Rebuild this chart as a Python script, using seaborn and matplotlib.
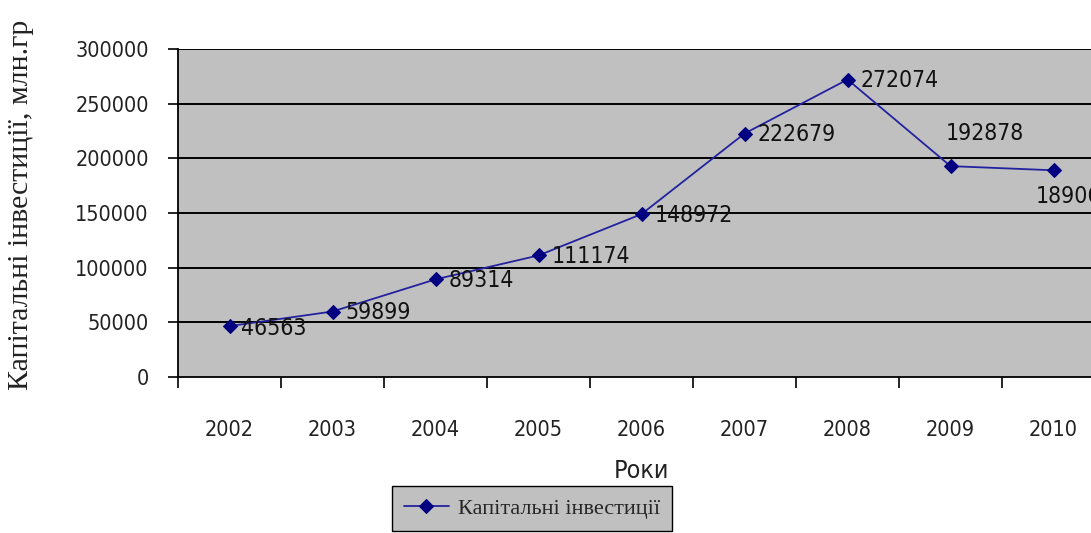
import matplotlib
matplotlib.use("Agg")
import matplotlib.pyplot as plt
from matplotlib import font_manager
import seaborn as sns
import pandas as pd
import numpy as np

years = ["2002", "2003", "2004", "2005", "2006", "2007", "2008", "2009", "2010"]
investments = [46563, 59899, 89314, 111174, 148972, 222679, 272074, 192878, 189060]
series_name = "Капітальні інвестиції"
y_label = "Капітальні інвестиції, млн.гр"
x_label = "Роки"
y_ticks = [0, 50000, 100000, 150000, 200000, 250000, 300000]

# label offsets in pixels (dx, dy, ha)
label_offsets = [(12, -2, "left"), (13, -1, "left"), (13, -1, "left"), (13, -1, "left"),
                 (13, -1, "left"), (13, -1, "left"), (13, -1, "left"),
                 (-5, 33, "left"), (-18, -26, "left")]

sns.set_style("white", {"axes.facecolor": "#C0C0C0"})

names = {f.name for f in font_manager.fontManager.ttflist}
if "Liberation Sans Narrow" in names:
    narrow, stretch = "Liberation Sans Narrow", "normal"
else:
    narrow, stretch = "DejaVu Sans", "condensed"
serif = "Liberation Serif"
plt.rcParams["font.family"] = [narrow, "DejaVu Sans"]
plt.rcParams["font.stretch"] = stretch

df = pd.DataFrame({"year": years, "value": investments})
df["pos"] = np.arange(len(years))

W, H = 1091, 533
fig = plt.figure(figsize=(W / 100, H / 100), dpi=100)
ax = fig.add_axes([178 / W, (H - 377) / H, 927 / W, 328 / H])

sns.lineplot(data=df, x="pos", y="value", ax=ax, color="#2222A0", linewidth=1.3,
             marker="D", markersize=7, markerfacecolor="#000080", markeredgecolor="#000080",
             label=series_name, zorder=3)

ax.set_xlim(-0.5, len(years) - 0.5)
ax.set_ylim(0, 300000)
ax.set_yticks(y_ticks)
ax.set_yticklabels([str(v) for v in y_ticks], fontsize=15.5, fontstretch=stretch)
ax.set_xticks(df["pos"])
ax.set_xticklabels(years, fontsize=15.5, fontstretch=stretch)
ax.set_xticks(np.arange(len(years) + 1) - 0.5, minor=True)
ax.tick_params(axis="x", which="major", length=0, pad=31)
ax.tick_params(axis="x", which="minor", length=8, width=1.2, color="black", direction="out")
ax.tick_params(axis="y", which="major", length=7, width=1.2, color="black", direction="out", pad=14)
ax.tick_params(colors="black", labelcolor="#222222")
ax.xaxis.set_ticks_position("bottom")
ax.yaxis.set_ticks_position("left")

for v in y_ticks[1:]:
    ax.axhline(v, color="black", linewidth=1.4, zorder=1)

for s in ["left", "bottom"]:
    ax.spines[s].set_color("black")
    ax.spines[s].set_linewidth(1.3)
ax.spines["top"].set_visible(False)
ax.spines["right"].set_visible(False)

for i, (x, v) in enumerate(zip(df["pos"], investments)):
    dx, dy, ha = label_offsets[i]
    ax.annotate(str(v), (x, v), xytext=(dx * 0.72, dy * 0.72), textcoords="offset points",
                ha=ha, va="center", fontsize=16.5, fontstretch=stretch, color="#111111", zorder=4,
                annotation_clip=False)

ax.set_xlabel(x_label, fontsize=18, fontstretch=stretch, color="#222222", labelpad=14)
ax.set_ylabel("")
fig.text(21 / W, 1 - 205 / H, y_label, rotation=90, ha="center", va="center",
         fontsize=21.5, family=[serif, "DejaVu Serif"], color="#222222")

leg = ax.legend(loc="lower left", bbox_to_anchor=(392 / W, 2 / H), bbox_transform=fig.transFigure,
                frameon=True, fancybox=False, edgecolor="black", framealpha=1,
                prop={"family": [serif, "DejaVu Serif"], "size": 16},
                handlelength=2.0, borderpad=0.55, handletextpad=0.4, borderaxespad=0)
leg.get_frame().set_linewidth(1.0)

fig.savefig("out.png", dpi=100)
